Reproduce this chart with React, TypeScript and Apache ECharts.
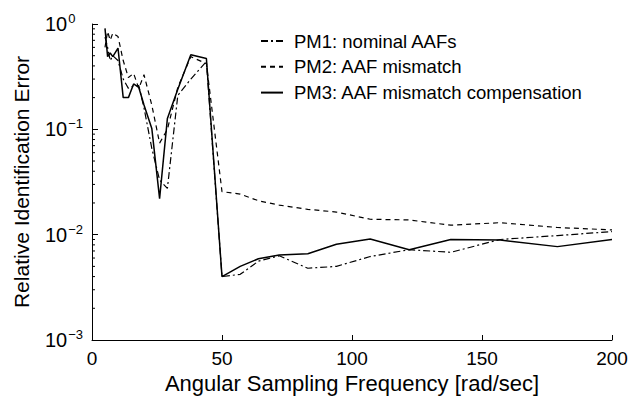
import React, { useEffect, useRef } from "react";
import * as echarts from "echarts";

const freq = [5, 6, 7, 8, 10, 12, 14, 16, 18, 20, 23, 26, 29, 33, 38, 44, 50, 57, 64, 72, 83, 94, 107, 122, 138, 157, 179, 200];
const pm1 = [0.75, 0.6, 0.45, 0.5, 0.45, 0.3, 0.245, 0.26, 0.26, 0.16, 0.066, 0.033, 0.0275, 0.21, 0.3, 0.44, 0.004, 0.0042, 0.0056, 0.0063, 0.0048, 0.005, 0.0062, 0.0072, 0.0068, 0.009, 0.0098, 0.0107];
const pm2 = [0.6, 0.85, 0.7, 0.82, 0.76, 0.45, 0.31, 0.34, 0.245, 0.33, 0.17, 0.074, 0.1, 0.25, 0.49, 0.42, 0.0256, 0.0243, 0.021, 0.0191, 0.0174, 0.0164, 0.014, 0.0138, 0.0123, 0.013, 0.0117, 0.0111];
const pm3 = [0.91, 0.49, 0.53, 0.49, 0.59, 0.2, 0.2, 0.27, 0.25, 0.17, 0.102, 0.022, 0.127, 0.24, 0.51, 0.47, 0.004, 0.005, 0.0059, 0.0064, 0.0066, 0.0081, 0.0091, 0.0072, 0.009, 0.0089, 0.0077, 0.009];
const seriesNames = ["PM1: nominal AAFs", "PM2: AAF mismatch", "PM3: AAF mismatch compensation"];
const minorMantissas = [2, 3, 4, 5, 6, 7, 8, 9];
const decades = [0.001, 0.01, 0.1];

const FONT = "'Liberation Sans', Arial, sans-serif";

export default function App() {
  const ref = useRef<HTMLDivElement>(null);
  useEffect(() => {
    if (!ref.current) return;
    const chart = echarts.init(ref.current, undefined, { renderer: "svg" });
    const minorData: number[][] = [];
    decades.forEach((d) => minorMantissas.forEach((m) => minorData.push([0, m * d])));
    const pair = (arr: number[]) => freq.map((f, i) => [f, arr[i]]);
    chart.setOption({
      animation: false,
      backgroundColor: "#fff",
      textStyle: { fontFamily: FONT, color: "#000" },
      grid: { left: 92, right: 32, top: 24, bottom: 63 },
      legend: {
        data: seriesNames,
        orient: "vertical",
        left: 255,
        top: 26,
        itemWidth: 22,
        itemHeight: 14,
        itemGap: 5.8,
        itemStyle: { opacity: 0 },
        textStyle: { fontFamily: FONT, fontSize: 18.5, lineHeight: 20, color: "#000", padding: [0, 0, 0, 6] },
        inactiveColor: "#000",
        selectedMode: false,
      },
      xAxis: {
        type: "value",
        min: 0,
        max: 200,
        interval: 50,
        name: "Angular Sampling Frequency [rad/sec]",
        nameLocation: "middle",
        nameGap: 30,
        nameTextStyle: { fontFamily: FONT, fontSize: 22, color: "#000" },
        axisLine: { show: true, lineStyle: { color: "#000", width: 1 } },
        axisTick: { show: true, inside: true, length: 5, lineStyle: { color: "#000" } },
        axisLabel: { fontFamily: FONT, fontSize: 19, color: "#000", margin: 9 },
        splitLine: { show: false },
      },
      yAxis: {
        type: "log",
        logBase: 10,
        min: 0.001,
        max: 1,
        name: "Relative Identification Error",
        nameLocation: "middle",
        nameGap: 60,
        nameTextStyle: { fontFamily: FONT, fontSize: 21, color: "#000" },
        axisLine: { show: true, lineStyle: { color: "#000", width: 1 } },
        axisTick: { show: true, inside: true, length: 6, lineStyle: { color: "#000" } },
        axisLabel: {
          margin: 47,
          align: "left",
          formatter: (v: number) => {
            const e = Math.round(Math.log10(v));
            return `{b|10}{e|${e === 0 ? "0" : "\u2212" + Math.abs(e)}}`;
          },
          rich: {
            b: { fontFamily: FONT, fontSize: 20, color: "#000" },
            e: { fontFamily: FONT, fontSize: 13, color: "#000", verticalAlign: "top", padding: [0, 0, 11, 1] },
          },
        },
        splitLine: { show: false },
      },
      series: [
        {
          name: seriesNames[0],
          type: "line",
          data: pair(pm1),
          symbol: "none",
          lineStyle: { color: "#000", width: 1.2, type: [7, 3, 2, 3] },
          itemStyle: { color: "#000" },
        },
        {
          name: seriesNames[1],
          type: "line",
          data: pair(pm2),
          symbol: "none",
          lineStyle: { color: "#000", width: 1.2, type: [5, 4] },
          itemStyle: { color: "#000" },
        },
        {
          name: seriesNames[2],
          type: "line",
          data: pair(pm3),
          symbol: "none",
          lineStyle: { color: "#000", width: 1.5, type: "solid" },
          itemStyle: { color: "#000" },
        },
        {
          name: "minorTicks",
          type: "custom",
          data: minorData,
          silent: true,
          clip: false,
          renderItem: (_p: any, api: any) => {
            const pt = api.coord([api.value(0), api.value(1)]);
            return {
              type: "line",
              shape: { x1: pt[0], y1: pt[1], x2: pt[0] + 3, y2: pt[1] },
              style: { stroke: "#000", lineWidth: 1 },
            };
          },
        },
      ],
    });
    return () => chart.dispose();
  }, []);
  return <div ref={ref} style={{ width: 644, height: 403, position: "absolute", left: 0, top: 0 }} />;
}
